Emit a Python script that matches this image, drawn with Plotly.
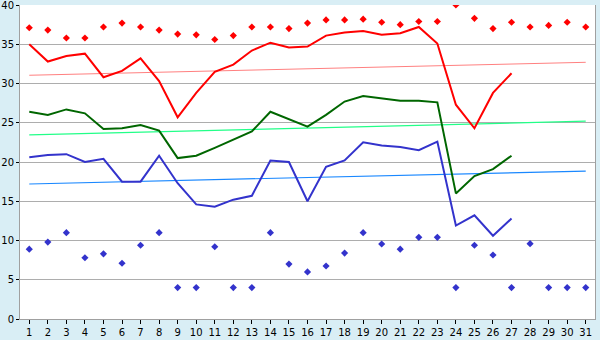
import plotly.graph_objects as go

days = list(range(1, 32))

max_points = [37.1, 36.8, 35.8, 35.8, 37.2, 37.7, 37.2, 36.8, 36.3, 36.2,
              35.6, 36.1, 37.2, 37.2, 37.0, 37.7, 38.1, 38.1, 38.2, 37.8,
              37.5, 37.9, 37.9, 40.0, 38.3, 37.0, 37.8, 37.2, 37.4, 37.8, 37.2]

min_points = [8.9, 9.8, 11.0, 7.8, 8.3, 7.1, 9.4, 11.0, 4.0, 4.0,
              9.2, 4.0, 4.0, 11.0, 7.0, 6.0, 6.75, 8.4, 11.0, 9.55,
              8.9, 10.4, 10.4, 4.0, 9.4, 8.15, 4.0, 9.6, 4.0, 4.0, 4.0]

line_days = list(range(1, 28))
max_line = [35.0, 32.8, 33.5, 33.8, 30.8, 31.6, 33.2, 30.3, 25.7, 28.8,
            31.5, 32.4, 34.2, 35.2, 34.6, 34.7, 36.1, 36.5, 36.7, 36.2,
            36.4, 37.2, 35.1, 27.3, 24.3, 28.8, 31.3]
mid_line = [26.4, 26.0, 26.7, 26.2, 24.2, 24.3, 24.7, 24.0, 20.5, 20.8,
            21.8, 22.8, 23.9, 26.4, 25.5, 24.5, 26.0, 27.7, 28.4, 28.1,
            27.8, 27.8, 27.6, 16.0, 18.2, 19.1, 20.8]
min_line = [20.6, 20.9, 21.0, 20.0, 20.4, 17.5, 17.5, 20.8, 17.3, 14.6,
            14.3, 15.2, 15.7, 20.2, 20.0, 15.0, 19.4, 20.2, 22.5, 22.1,
            21.9, 21.5, 22.6, 11.9, 13.2, 10.6, 12.8]

trend_days = [1, 31]
max_trend = [31.05, 32.7]
mid_trend = [23.45, 25.2]
min_trend = [17.2, 18.85]

ytick_vals = [0, 5, 10, 15, 20, 25, 30, 35, 40]

RED = "#ff0000"
GREEN = "#006600"
BLUE = "#3333cc"

fig = go.Figure()

fig.add_trace(go.Scatter(x=trend_days, y=max_trend, mode="lines",
                         line=dict(color="#ff8080", width=1)))
fig.add_trace(go.Scatter(x=trend_days, y=mid_trend, mode="lines",
                         line=dict(color="#22ff88", width=1.2)))
fig.add_trace(go.Scatter(x=trend_days, y=min_trend, mode="lines",
                         line=dict(color="#1a88ff", width=1.2)))

fig.add_trace(go.Scatter(x=line_days, y=max_line, mode="lines",
                         line=dict(color=RED, width=2)))
fig.add_trace(go.Scatter(x=line_days, y=mid_line, mode="lines",
                         line=dict(color=GREEN, width=2)))
fig.add_trace(go.Scatter(x=line_days, y=min_line, mode="lines",
                         line=dict(color=BLUE, width=2)))

fig.add_trace(go.Scatter(x=days, y=max_points, mode="markers",
                         marker=dict(symbol="diamond", size=5.5, color=RED)))
fig.add_trace(go.Scatter(x=days, y=min_points, mode="markers",
                         marker=dict(symbol="diamond", size=5.5, color=BLUE)))

fig.update_layout(
    width=600, height=340,
    margin=dict(l=20, r=5, t=5, b=21, pad=0),
    paper_bgcolor="#d9eef5",
    plot_bgcolor="#ffffff",
    showlegend=False,
    font=dict(family="DejaVu Sans", size=10, color="#000000"),
)
fig.update_xaxes(
    range=[0.5, 31.5], tickmode="array", tickvals=days,
    ticktext=[str(d) for d in days],
    showgrid=False, zeroline=False, automargin=False,
    showline=True, linecolor="#a0a0a0", linewidth=1,
    ticks="outside", ticklen=4, tickcolor="#000000", mirror=False,
    ticklabeloverflow="allow",
)
fig.update_yaxes(
    range=[0, 40], tickmode="array", tickvals=ytick_vals,
    showgrid=True, gridcolor="#adadad", gridwidth=1, zeroline=False,
    showline=True, linecolor="#a0a0a0", linewidth=1, mirror=True,
    ticks="outside", ticklen=3, tickcolor="#000000", automargin=False,
    ticklabeloverflow="allow", ticklabelstandoff=0,
)

fig.write_html(
    "out.html",
    config={"displayModeBar": False},
    post_script="document.body.style.margin='0';document.body.style.background='#d9eef5';",
)
